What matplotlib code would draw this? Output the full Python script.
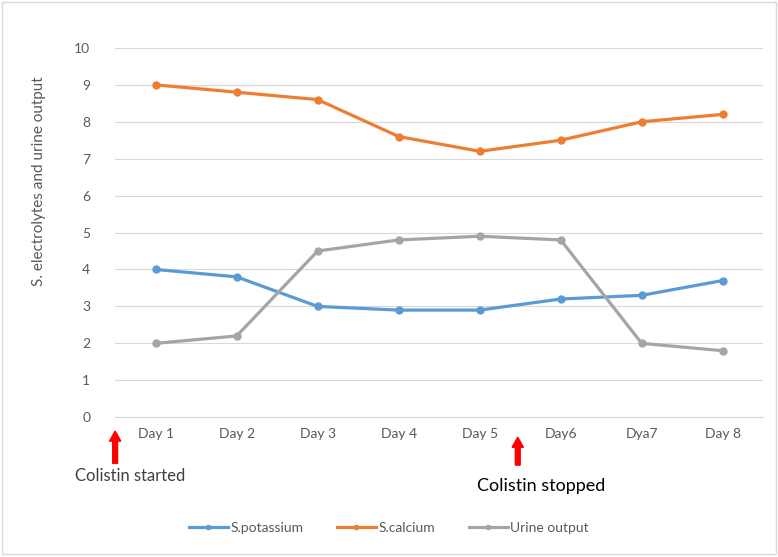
import matplotlib.pyplot as plt
import matplotlib.transforms as mtransforms
from matplotlib.patches import FancyArrow, Rectangle

days = ["Day 1", "Day 2", "Day 3", "Day 4", "Day 5", "Day6", "Dya7", "Day 8"]
potassium = [4.0, 3.8, 3.0, 2.9, 2.9, 3.2, 3.3, 3.7]
calcium = [9.0, 8.8, 8.6, 7.6, 7.2, 7.5, 8.0, 8.2]
urine = [2.0, 2.2, 4.5, 4.8, 4.9, 4.8, 2.0, 1.8]

plt.rcParams["font.family"] = ["Lato", "DejaVu Sans"]
tick_color = "#595959"

fig = plt.figure(figsize=(7.78, 5.57), dpi=100)
ax = fig.add_axes([0.148, 0.251, 0.833, 0.663])

x = list(range(len(days)))
ax.plot(x, potassium, color="#5B9BD5", lw=2.3, marker="o", ms=5, label="S.potassium")
ax.plot(x, calcium, color="#ED7D31", lw=2.3, marker="o", ms=5, label="S.calcium")
ax.plot(x, urine, color="#A5A5A5", lw=2.3, marker="o", ms=5, label="Urine output")

ax.set_xlim(-0.5, len(days) - 0.5)
ax.set_ylim(0, 10)
ax.set_yticks(range(0, 11))
ax.set_xticks(x)
ax.set_xticklabels(days)
ax.grid(axis="y", color="#D9D9D9", lw=0.8)
ax.set_axisbelow(True)
for s in ["top", "right", "left"]:
    ax.spines[s].set_visible(False)
ax.spines["bottom"].set_color("#D9D9D9")
ax.tick_params(length=0, labelsize=10, colors=tick_color, pad=8)
ax.tick_params(axis="y", pad=18)
ax.set_ylabel("S. electrolytes and urine output", fontsize=11, color=tick_color)
ax.yaxis.set_label_coords(-0.106, 0.64)

# red arrows marking start and stop of colistin
trans = mtransforms.blended_transform_factory(ax.transData, fig.transFigure)
for xa, y0, h in [(-0.5, 0.168, 0.058), (4.47, 0.165, 0.050)]:
    ax.add_patch(FancyArrow(xa, y0, 0, h, width=0.06, head_width=0.14,
                            head_length=0.018, length_includes_head=True,
                            color="#FF0000", transform=trans, clip_on=False))
fig.text(0.167, 0.145, "Colistin started", fontsize=12, color="#404040", ha="center", va="center")
fig.text(0.695, 0.128, "Colistin stopped", fontsize=13, color="black", ha="center", va="center")

ax.legend(loc="center", bbox_to_anchor=(0.5, 0.052), bbox_transform=fig.transFigure,
          ncol=3, frameon=False, fontsize=10, labelcolor=tick_color,
          handlelength=2.8, columnspacing=2.4, handletextpad=0.2, markerscale=0.6)

fig.patches.append(Rectangle((0.003, 0.006), 0.994, 0.99, transform=fig.transFigure,
                             fill=False, edgecolor="#D9D9D9", lw=1))

fig.savefig("out.png", dpi=100)
